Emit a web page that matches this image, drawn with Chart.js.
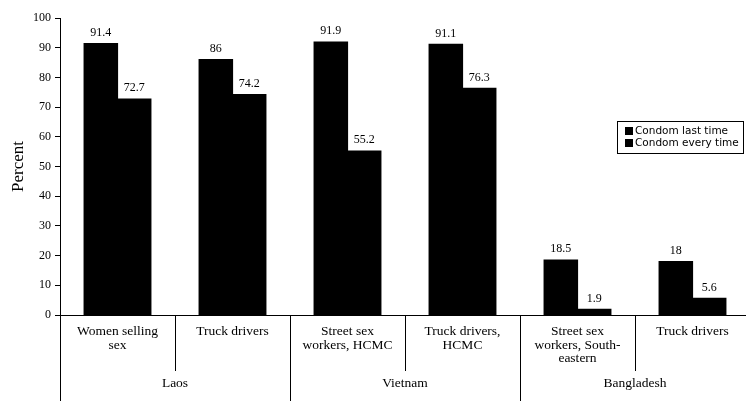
<!DOCTYPE html>
<html>
<head>
<meta charset="utf-8">
<script src="https://cdn.jsdelivr.net/npm/chart.js@4.4.1/dist/chart.umd.min.js"></script>
<style>
  html, body { margin: 0; padding: 0; background: #fff; overflow: hidden; }
  #wrap { width: 760px; height: 405px; }
</style>
</head>
<body>
<div id="wrap"><canvas id="bar-chart"></canvas></div>
<script>
const categories = [
  ['Women selling', 'sex'],
  ['Truck drivers'],
  ['Street sex', 'workers, HCMC'],
  ['Truck drivers,', 'HCMC'],
  ['Street sex', 'workers, South-', 'eastern'],
  ['Truck drivers']
]
const countries = ['Laos', 'Vietnam', 'Bangladesh']
const countrySpan = [2, 2, 2]
const lastTime = [91.4, 86, 91.9, 91.1, 18.5, 18]
const everyTime = [72.7, 74.2, 55.2, 76.3, 1.9, 5.6]
const yTicks = [0, 10, 20, 30, 40, 50, 60, 70, 80, 90, 100]

const serif = '"Liberation Serif", "Times New Roman", serif'

// value labels above the bars
const valueLabels = {
  id: 'valueLabels',
  afterDatasetsDraw(chart) {
    const ctx = chart.ctx
    ctx.save()
    ctx.fillStyle = '#000'
    ctx.font = '12px ' + serif
    ctx.textAlign = 'center'
    ctx.textBaseline = 'bottom'
    chart.data.datasets.forEach((ds, i) => {
      chart.getDatasetMeta(i).data.forEach((bar, j) => {
        ctx.fillText(String(ds.data[j]), bar.x, bar.y - 5)
      })
    })
    ctx.restore()
  }
}

// separators and country names under the x axis
const groupAxis = {
  id: 'groupAxis',
  afterDraw(chart) {
    const ctx = chart.ctx
    const x = chart.scales.x
    const bottom = chart.chartArea.bottom
    const n = categories.length
    const edge = i => {
      if (i === 0) return x.getPixelForValue(0) - (x.getPixelForValue(1) - x.getPixelForValue(0)) / 2
      if (i === n) return x.getPixelForValue(n - 1) + (x.getPixelForValue(n - 1) - x.getPixelForValue(n - 2)) / 2
      return (x.getPixelForValue(i - 1) + x.getPixelForValue(i)) / 2
    }
    const starts = [0]
    countrySpan.forEach(s => starts.push(starts[starts.length - 1] + s))
    ctx.save()
    ctx.strokeStyle = '#000'
    ctx.lineWidth = 1
    for (let i = 0; i <= n; i++) {
      const px = Math.round(edge(i)) + 0.5
      const len = starts.includes(i) ? 86 : 56
      ctx.beginPath()
      ctx.moveTo(px, bottom)
      ctx.lineTo(px, bottom + len)
      ctx.stroke()
    }
    ctx.fillStyle = '#000'
    ctx.font = '13.5px ' + serif
    ctx.textAlign = 'center'
    ctx.textBaseline = 'middle'
    countries.forEach((c, k) => {
      const cx = (edge(starts[k]) + edge(starts[k + 1])) / 2
      ctx.fillText(c, cx, bottom + 68)
    })
    ctx.restore()
  }
}

// boxed legend on the right
const boxLegend = {
  id: 'boxLegend',
  afterDraw(chart) {
    const ctx = chart.ctx
    const left = 617, top = 121, w = 126, h = 32
    ctx.save()
    ctx.fillStyle = '#fff'
    ctx.fillRect(left, top, w, h)
    ctx.strokeStyle = '#000'
    ctx.lineWidth = 1
    ctx.strokeRect(left + 0.5, top + 0.5, w, h)
    ctx.font = '10.5px "DejaVu Sans", sans-serif'
    ctx.textBaseline = 'middle'
    chart.data.datasets.forEach((ds, i) => {
      const cy = top + 10 + i * 12
      ctx.fillStyle = ds.backgroundColor
      ctx.fillRect(left + 8, cy - 4, 8, 8)
      ctx.fillStyle = '#000'
      ctx.fillText(ds.label, left + 18, cy)
    })
    ctx.restore()
  }
}

const ctx1 = document.getElementById('bar-chart').getContext('2d')

let bar_chart = new Chart(ctx1, {
  type: 'bar',
  data: {
    labels: categories,
    datasets: [{
      label: 'Condom last time',
      data: lastTime,
      backgroundColor: '#000'
    }, {
      label: 'Condom every time',
      data: everyTime,
      backgroundColor: '#000'
    }]
  },
  options: {
    responsive: true,
    maintainAspectRatio: false,
    animation: false,
    layout: { padding: { top: 18, right: 10, left: 0, bottom: 0 } },
    datasets: { bar: { categoryPercentage: 0.58, barPercentage: 1, borderWidth: 0, inflateAmount: 0.6 } },
    plugins: {
      legend: { display: false },
      tooltip: { enabled: false }
    },
    scales: {
      x: {
        grid: { display: false, drawTicks: false },
        border: { display: true, color: '#000', width: 1 },
        ticks: {
          color: '#000',
          padding: 10,
          maxRotation: 0,
          autoSkip: false,
          font: { family: serif, size: 13.5, lineHeight: 1.0 }
        },
        afterFit(scale) { scale.height = 90 }
      },
      y: {
        min: 0,
        max: 100,
        afterBuildTicks(scale) { scale.ticks = yTicks.map(v => ({ value: v })) },
        grid: { drawOnChartArea: false, drawTicks: true, tickLength: 5, color: '#000' },
        border: { display: true, color: '#000', width: 1 },
        ticks: {
          color: '#000',
          padding: 4,
          font: { family: serif, size: 12 }
        },
        title: {
          display: true,
          text: 'Percent',
          color: '#000',
          padding: { top: 8, bottom: 0 },
          font: { family: serif, size: 17 }
        },
        afterFit(scale) { scale.width = 60 }
      }
    }
  },
  plugins: [valueLabels, groupAxis, boxLegend]
})
</script>
</body>
</html>
